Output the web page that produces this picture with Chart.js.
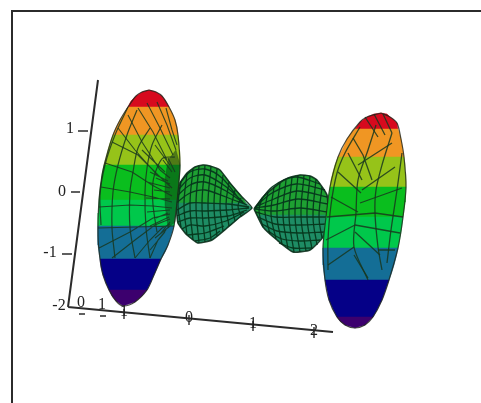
<!DOCTYPE html>
<html>
<head>
<meta charset="utf-8">
<style>
  html, body { margin: 0; padding: 0; background: #fff; }
  canvas { display: block; }
</style>
<script src="https://cdn.jsdelivr.net/npm/chart.js@4/dist/chart.umd.min.js"></script>
</head>
<body>
<canvas id="surfaceChart" width="481" height="403"></canvas>
<script>
// Projected 3D surface as [x, y] in image units

// left disc colour bands, top to bottom
const leftRed = [[128,107],[131,101],[136,96],[142,92],[149,90],[156,92],[162,96],[165,100],[169,107]];
const leftOrange = [[128,107],[124,114],[120,120],[116,128],[113,135],[178,135],[177,128],[175,120],[172,113],[169,107]];
const leftLime = [[113,135],[110,143],[108,150],[106,158],[104,165],[180,165],[180,158],[179.5,150],[179,143],[178,135]];
const leftGreen = [[104,165],[102,175],[100.5,187],[99,200],[177,200],[178.5,187],[179.5,175],[180,165]];
const leftGreen2 = [[99,200],[98.5,213],[98,226],[174,226],[175.5,213],[177,200]];
const leftTeal = [[98,226],[98,236],[98,245],[99,252],[100,259],[161,259],[165,252],[168,245],[171,236],[174,226]];
const leftNavy = [[100,259],[101,267],[103,275],[106,283],[109,290],[147,290],[150.5,283],[154,275],[157.5,267],[161,259]];
const leftPurple = [[109,290],[112,296],[116,301],[123,306],[135,302],[142,296],[147,290]];
const leftHubShade = [[168,160],[176,150],[180,165],[178,195],[175,222],[168,228],[165,205],[165,180]];

// right disc colour bands
const rightRed = [[355,129],[360,122],[367,117],[374,114],[381,113],[387,114],[390,117],[394,120],[397,123],[398,129]];
const rightOrange = [[355,129],[352,132],[347,139],[344,146],[341,152],[338,157],[404,157],[403,151],[402,145],[401,139],[399,132],[398,129]];
const rightLime = [[338,157],[335,165],[333,172],[331,180],[330,187],[406,187],[406,180],[405.5,172],[405,165],[404,157]];
const rightGreen = [[330,187],[328,202],[326,217],[403,217],[404,210],[405,202],[405.5,195],[406,187]];
const rightGreen2 = [[326,217],[324,232],[323,248],[398,248],[399.5,240],[401,232],[402,225],[403,217]];
const rightTeal = [[323,248],[323,257],[323,265],[324,273],[325,280],[389,280],[391.5,273],[394,265],[396,257],[398,248]];
const rightNavy = [[325,280],[327,290],[329,300],[333,309],[337,317],[373,317],[377.5,309],[382,300],[385.5,290],[389,280]];
const rightPurple = [[337,317],[340,321],[345,325],[355,328],[365,325],[369,321],[373,317]];

// centre lobes
const lobeLeftTop = [[176,203],[177,196],[180,183],[187,173],[195,167],[203,165],[210,166],[220,170],[230,183],[242,197],[246,203]];
const lobeLeftBottom = [[176,203],[177,212],[178,223],[187,235],[198,243],[212,240],[227,228],[240,217],[252,208],[246,203]];
const lobeRightTop = [[257,215],[254,209],[263,197],[277,185],[288,178],[300,175],[310,176],[317,180],[327,195],[328,215]];
const lobeRightBottom = [[257,215],[263,227],[277,240],[293,252],[310,250],[323,237],[328,215]];

// mesh lines
const lobeLeftRings = [
  [[181,182],[178,205],[181,227]], [[187,173],[184,205],[187,235]], [[193,169],[190,205],[193,240]],
  [[199,166],[196,205],[199,243]], [[205,165],[202,205],[205,242]], [[211,166],[208,205],[211,240]],
  [[217,169],[214,205],[217,236]], [[223,175],[220,205],[223,231]], [[229,182],[226,205],[229,226]],
  [[235,190],[232,205],[235,221]], [[241,198],[238,206],[241,216]]
];
const lobeLeftRows = [
  [[180,183],[190,172],[205,169],[222,178],[240,200]], [[178,190],[190,178],[205,175],[225,186],[243,202]],
  [[177,196],[190,185],[205,182],[226,191],[245,204]], [[176,203],[190,193],[205,190],[226,197],[247,205]],
  [[177,210],[190,203],[205,203],[228,204],[249,207]], [[177,216],[190,211],[205,211],[228,210],[249,208]],
  [[178,222],[190,218],[205,218],[228,216],[247,210]], [[182,229],[190,225],[205,226],[226,221],[244,212]],
  [[188,235],[197,234],[205,233],[224,226]], [[195,241],[210,238],[220,231]]
];
const lobeRightRings = [
  [[262,198],[259,211],[263,227]], [[268,192],[265,212],[270,234]], [[274,187],[271,214],[276,239]],
  [[280,183],[277,215],[282,244]], [[286,180],[283,215],[288,249]], [[292,177],[289,216],[294,252]],
  [[298,175],[295,216],[300,252]], [[304,175],[301,216],[306,251]], [[310,176],[307,217],[312,249]],
  [[316,179],[313,217],[317,245]], [[322,187],[319,217],[322,238]]
];
const lobeRightRows = [
  [[258,204],[272,187],[295,177],[320,184]], [[256,206],[272,193],[296,184],[325,190]],
  [[255,207],[274,199],[297,191],[327,197]], [[255,208],[274,205],[298,199],[328,204]],
  [[255,209],[275,211],[300,208],[328,212]], [[256,212],[275,217],[300,217],[328,217]],
  [[258,217],[275,224],[300,225],[326,224]], [[262,224],[277,231],[300,233],[324,232]],
  [[268,231],[282,239],[300,241],[320,240]], [[279,243],[293,248],[312,248]]
];
const leftDiscRings = [
  [[128,107],[115,135],[105,165],[100,195],[101,225]],
  [[137,110],[127,135],[118,165],[113,192],[112,228],[115,258]],
  [[150,128],[138,148],[133,172],[130,192],[130,228],[135,258]],
  [[162,125],[152,145],[147,168],[145,192],[146,228],[150,258]],
  [[175,157],[163,158],[157,168],[153,182],[153,205],[157,232]]
];
const leftDiscSpokes = [
  [[138,108],[153,132],[167,160]], [[147,103],[160,128],[173,155]], [[157,102],[167,125],[176,150]],
  [[166,108],[172,130],[177,145]], [[128,115],[142,142],[160,170]], [[118,128],[135,150],[158,176]],
  [[112,142],[138,155],[158,175],[172,188]], [[105,163],[132,172],[152,185],[172,196]],
  [[101,187],[130,192],[153,197],[172,202]], [[99,207],[130,205],[153,206],[172,208]],
  [[98,228],[174,226]], [[99,248],[130,232],[153,218],[170,214]],
  [[112,258],[135,240],[155,225],[170,219]], [[135,258],[150,240],[162,228],[170,224]],
  [[150,258],[158,240],[166,230]], [[160,170],[170,178]], [[156,178],[170,184]], [[154,190],[170,192]],
  [[156,218],[168,213]], [[160,234],[170,222]], [[150,250],[165,232]],
  [[163,160],[172,172]], [[168,158],[175,172]], [[150,172],[168,181]], [[147,182],[170,188]],
  [[146,198],[170,199]], [[147,212],[170,210]], [[150,226],[169,217]], [[142,150],[165,172]],
  [[155,145],[170,165]], [[155,238],[170,226]]
];
const rightDiscRings = [
  [[360,127],[345,153],[337,173],[331,205],[328,240],[328,270]],
  [[376,125],[368,150],[358,180],[356,213],[354,247],[368,280]],
  [[392,133],[382,165],[376,190],[375,213],[378,247],[382,270]],
  [[402,153],[397,190],[391,230],[387,263]]
];
const rightDiscSpokes = [
  [[365,117],[378,137]], [[353,138],[363,155],[372,180]], [[348,153],[362,180]], [[338,172],[361,193]],
  [[331,197],[358,212]], [[362,190],[395,167]], [[360,203],[402,188]], [[358,165],[392,143]],
  [[327,217],[375,213],[403,217]], [[355,225],[400,233]], [[326,240],[355,225]],
  [[355,232],[380,255]], [[328,265],[354,247]], [[354,255],[368,278]], [[378,250],[395,250]],
  [[374,114],[385,135]], [[383,114],[392,133]]
];
const leftOutline = [[149,90],[156,92],[162,96],[169,107],[175,120],[178,135],[180,165],[178.5,187],[174,226],[168,245],[161,259],[154,275],[147,290],[135,302],[123,306],[116,301],[109,290],[103,275],[100,259],[98,236],[99,200],[102,175],[106,158],[113,135],[120,120],[128,107],[136,96],[142,92],[149,90]];
const rightOutline = [[381,113],[390,117],[397,123],[401,139],[404,157],[406,187],[403,217],[398,248],[389,280],[382,300],[373,317],[365,325],[355,328],[345,325],[337,317],[329,300],[325,280],[323,248],[326,217],[330,187],[338,157],[347,139],[360,122],[367,117],[381,113]];
const lobeOutlines = [
  [[176,203],[177,196],[180,183],[187,173],[195,167],[203,165],[210,166],[220,170],[230,183],[242,197],[252,208],[240,217],[227,228],[212,240],[198,243],[187,235],[178,223],[176,203]],
  [[254,209],[263,197],[277,185],[288,178],[300,175],[310,176],[317,180],[327,195],[328,215],[323,237],[310,250],[293,252],[277,240],[263,227],[254,209]]
];

// axes and frame
const frameLine = [[12,403],[12,11],[481,11]];
const verticalAxis = [[98,80],[68,307]];
const floorAxis = [[68,307],[333,332]];
const verticalTicks = [[[78,131],[88,131]], [[71,192],[80,192]], [[62,254],[72,254]]];
const floorTicks = [[[79,314],[85,314]], [[100,316],[106,316]], [[124,309],[124,319]], [[189,315],[189,325]], [[253,321],[253,331]], [[314,327],[314,338]]];

const tickText = ['1', '0', '-1', '-2', '0', '1', '1', '0', '1', '2'];
const tickTextX = [70, 62, 50, 59, 81, 102, 124, 189, 253, 314];
const tickTextY = [129, 192, 253, 306, 303, 305, 312, 318, 324, 331];

function toPoints(lines) {
    const out = [];
    lines.forEach(function(line, i) {
        if (i > 0) out.push({ x: NaN, y: NaN });
        line.forEach(function(p) { out.push({ x: p[0], y: p[1] }); });
    });
    return out;
}

function band(pts, color) {
    return { data: toPoints([pts.concat([pts[0]])]), backgroundColor: color, borderColor: color, borderWidth: 0.5, fill: 'shape' };
}

function lines(segs, color, width, tension) {
    return { data: toPoints(segs), borderColor: color, borderWidth: width, fill: false, tension: tension || 0 };
}

const meshDark = 'rgba(25,55,30,0.85)';
const lobeDark = 'rgba(6,55,28,0.95)';
const axisDark = '#2b2b2b';

// painted first to last, reversed below since Chart.js draws the first dataset on top
const layers = [
    lines([frameLine], axisDark, 2),
    band(lobeLeftTop, 'rgb(30,160,50)'),
    band(lobeLeftBottom, 'rgb(30,140,100)'),
    band(lobeRightTop, 'rgb(30,160,50)'),
    band(lobeRightBottom, 'rgb(30,140,100)'),
    lines(lobeLeftRings, lobeDark, 1.3, 0.4),
    lines(lobeLeftRows, lobeDark, 1.3, 0.3),
    lines(lobeRightRings, lobeDark, 1.3, 0.4),
    lines(lobeRightRows, lobeDark, 1.3, 0.3),
    lines(lobeOutlines, 'rgba(10,45,25,0.9)', 1.6, 0.15),
    band(leftRed, 'rgb(215,10,30)'),
    band(leftOrange, 'rgb(240,150,35)'),
    band(leftLime, 'rgb(150,195,25)'),
    band(leftGreen, 'rgb(10,190,30)'),
    band(leftGreen2, 'rgb(0,200,75)'),
    band(leftTeal, 'rgb(20,110,150)'),
    band(leftNavy, 'rgb(5,0,135)'),
    band(leftPurple, 'rgb(60,0,110)'),
    band(rightRed, 'rgb(215,10,30)'),
    band(rightOrange, 'rgb(240,150,35)'),
    band(rightLime, 'rgb(150,195,25)'),
    band(rightGreen, 'rgb(10,190,30)'),
    band(rightGreen2, 'rgb(0,200,75)'),
    band(rightTeal, 'rgb(20,110,150)'),
    band(rightNavy, 'rgb(5,0,135)'),
    band(rightPurple, 'rgb(60,0,110)'),
    band(leftHubShade, 'rgba(10,50,20,0.5)'),
    lines(leftDiscRings, meshDark, 1.2, 0.3),
    lines(leftDiscSpokes, meshDark, 1.1, 0),
    lines(rightDiscRings, meshDark, 1.3, 0.3),
    lines(rightDiscSpokes, meshDark, 1.3, 0),
    lines([leftOutline], 'rgba(30,35,25,0.8)', 1.2, 0.3),
    lines([rightOutline], 'rgba(30,35,25,0.8)', 1.2, 0.3),
    lines([verticalAxis, floorAxis], axisDark, 2),
    lines(verticalTicks.concat(floorTicks), axisDark, 1.4)
];

// tick labels as real text, placed through the scales
const tickLabelPlugin = {
    id: 'tickLabels',
    afterDatasetsDraw: function(chart) {
        const ctx = chart.ctx;
        ctx.save();
        ctx.font = '16px "Liberation Serif"';
        ctx.fillStyle = '#222';
        ctx.textAlign = 'center';
        ctx.textBaseline = 'middle';
        tickText.forEach(function(t, i) {
            ctx.fillText(t, chart.scales.x.getPixelForValue(tickTextX[i]), chart.scales.y.getPixelForValue(tickTextY[i]));
        });
        ctx.restore();
    }
};

new Chart(document.getElementById('surfaceChart').getContext('2d'), {
    type: 'scatter',
    data: { datasets: layers.reverse() },
    options: {
        responsive: false,
        animation: false,
        showLine: true,
        elements: { point: { radius: 0 } },
        layout: { padding: 0 },
        plugins: { legend: { display: false }, tooltip: { enabled: false } },
        scales: {
            x: { type: 'linear', min: 0, max: 481, display: false },
            y: { type: 'linear', min: 0, max: 403, reverse: true, display: false }
        }
    },
    plugins: [tickLabelPlugin]
});
</script>
</body>
</html>
